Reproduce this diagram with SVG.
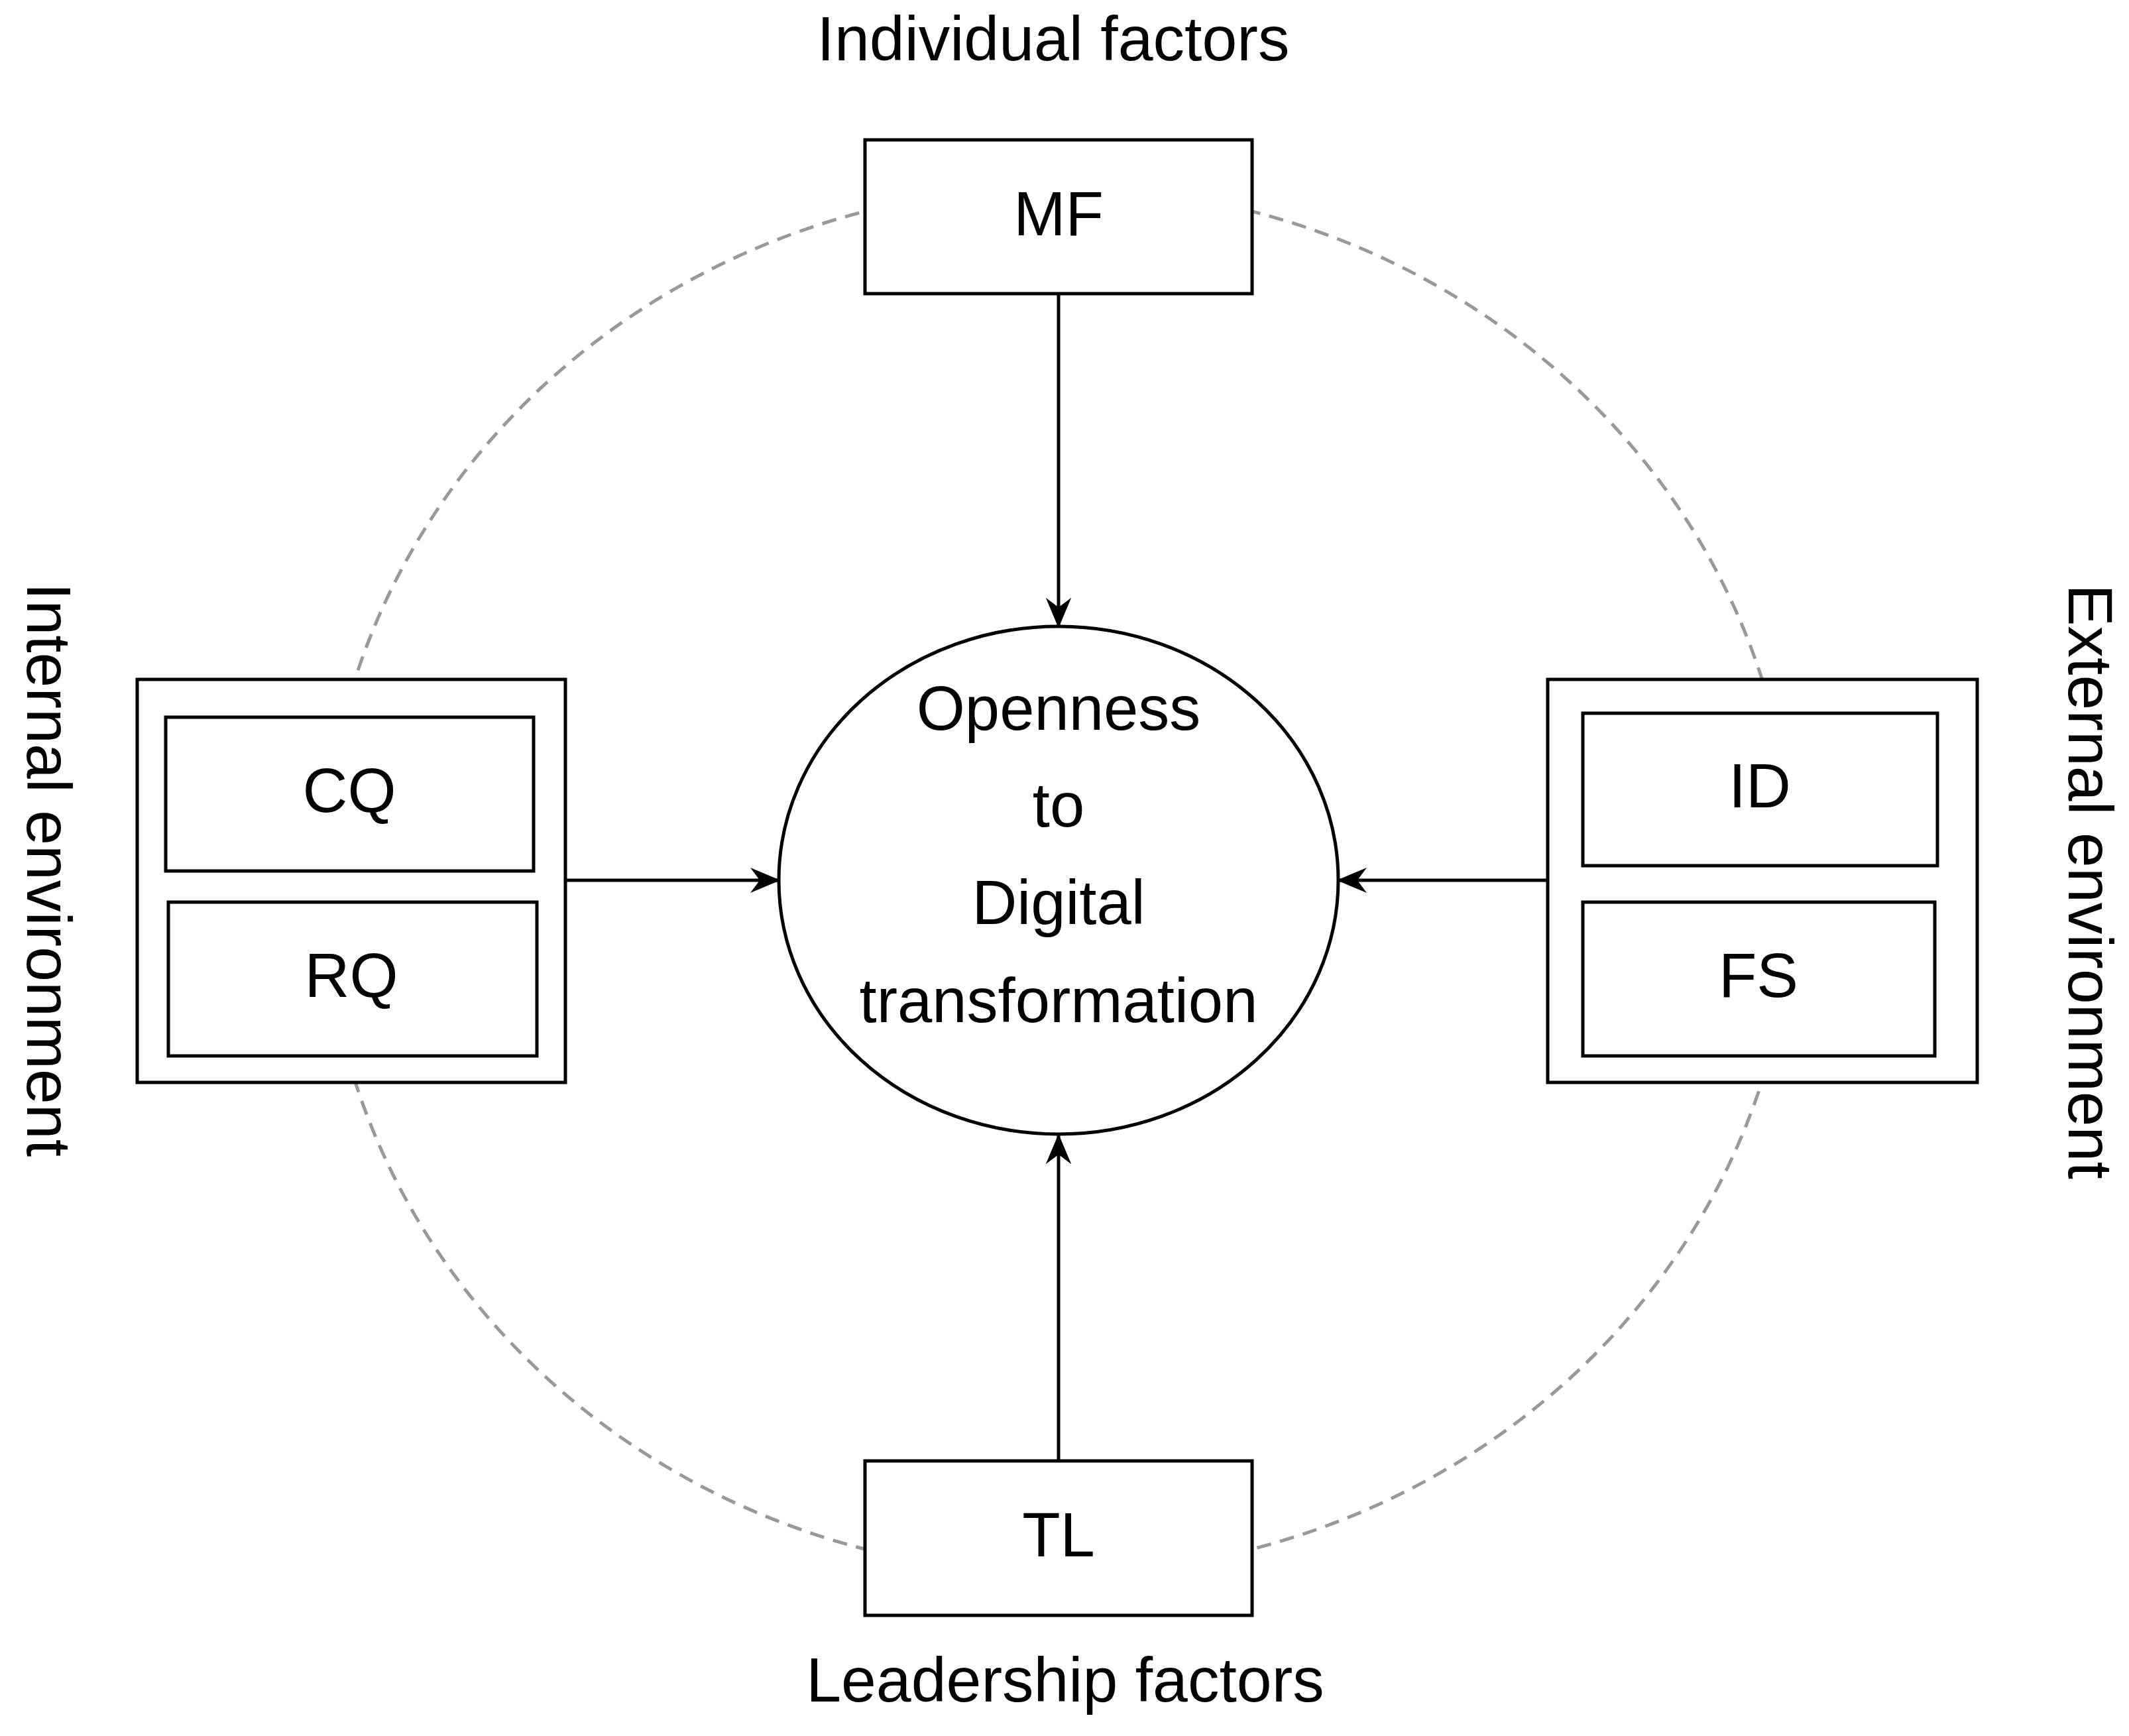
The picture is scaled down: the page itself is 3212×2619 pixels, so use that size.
<svg xmlns="http://www.w3.org/2000/svg" width="3212" height="2619" viewBox="0 0 3212 2619">
<style>
.b{fill:#fff;stroke:#000;stroke-width:5}
.t{font-family:"Liberation Sans",Arial,sans-serif;font-size:94px;text-anchor:middle;dominant-baseline:middle;fill:#000}
.l{font-family:"Liberation Sans",Arial,sans-serif;font-size:95px;text-anchor:middle;dominant-baseline:middle;fill:#000}
</style>
<defs>
<marker id="m" viewBox="0 0 20 20" refX="18" refY="10" markerWidth="48" markerHeight="48" markerUnits="userSpaceOnUse" orient="auto"><path d="M0,2 L19,10 L0,18 L6,10 Z" fill="#000"/></marker></defs>
<ellipse cx="1597" cy="1328" rx="1109" ry="1046" fill="none" stroke="#999" stroke-width="5" stroke-dasharray="22,14"/>
<g id="connectors">
<line x1="1597" y1="443" x2="1597" y2="945" stroke="#000" stroke-width="5" marker-end="url(#m)"/>
<line x1="1597" y1="2204" x2="1597" y2="1713" stroke="#000" stroke-width="5" marker-end="url(#m)"/>
<line x1="853" y1="1328" x2="1175" y2="1328" stroke="#000" stroke-width="5" marker-end="url(#m)"/>
<line x1="2335" y1="1328" x2="2019" y2="1328" stroke="#000" stroke-width="5" marker-end="url(#m)"/>
</g>
<g id="MF"><rect class="b" x="1305" y="211" width="584" height="232"/><text class="t" x="1597" y="330">MF</text></g>
<g id="TL"><rect class="b" x="1305" y="2204" width="584" height="233"/><text class="t" x="1597" y="2323">TL</text></g>
<g id="center"><ellipse class="b" cx="1597" cy="1328" rx="422" ry="383"/>
<text class="t" x="1597" y="1076">Openness</text><text class="t" x="1597" y="1222">to</text><text class="t" x="1597" y="1369">Digital</text><text class="t" x="1597" y="1517">transformation</text></g>
<g id="internal"><rect class="b" x="207" y="1025" width="646" height="608"/>
<rect class="b" x="250" y="1082" width="555" height="232"/><text class="t" x="527" y="1200">CQ</text>
<rect class="b" x="254" y="1361" width="556" height="232"/><text class="t" x="530" y="1479">RQ</text></g>
<g id="external"><rect class="b" x="2335" y="1025" width="648" height="608"/>
<rect class="b" x="2388" y="1076" width="535" height="230"/><text class="t" x="2655" y="1193">ID</text>
<rect class="b" x="2388" y="1361" width="531" height="232"/><text class="t" x="2653" y="1479">FS</text></g>
<text class="l" x="1589" y="66">Individual factors</text>
<text class="l" x="1607" y="2542">Leadership factors</text>
<text class="l" transform="translate(66,1312) rotate(90)">Internal environment</text>
<text class="l" transform="translate(3146,1330) rotate(90)">External environment</text>
</svg>
